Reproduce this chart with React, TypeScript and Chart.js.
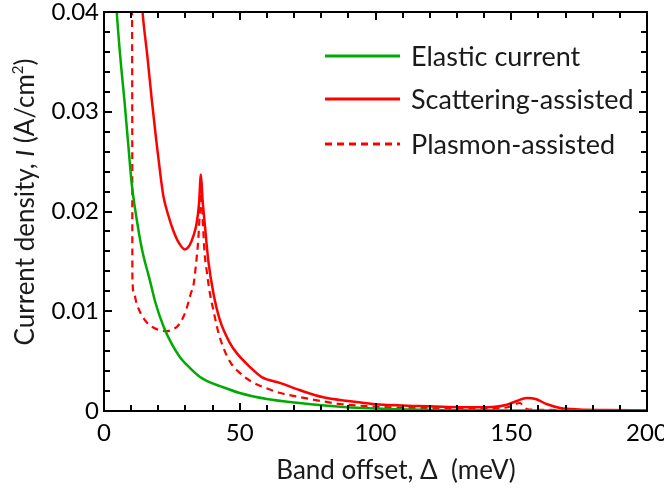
import React, { useEffect, useRef } from 'react';
import { Chart, registerables } from 'chart.js';

Chart.register(...registerables);

// ---- data ----
const elasticX = [3.5, 4.7, 6, 7.5, 9, 10.2, 12, 14, 16.9, 19, 21.9, 25, 28, 31.7, 35.4, 38, 42.7, 50, 60, 72, 87, 105, 130, 160, 200];
const elasticY = [0.046, 0.04, 0.0355, 0.0312, 0.0265, 0.0228, 0.0193, 0.0162, 0.0131, 0.0108, 0.0085, 0.0067, 0.0054, 0.0043, 0.0034, 0.003, 0.0025, 0.0018, 0.0012, 0.0008, 0.00043, 0.0002, 0.00008, 0.00004, 0.00002];

const scatterX = [12.5, 14.2, 16, 17.6, 19.3, 21, 21.9, 23.7, 25.5, 27.5, 29.8, 31.5, 33, 34.1, 35, 35.7, 36.3, 37.2, 38.4, 40.3, 42.7, 46.4, 48.9, 53.8, 58.1, 65, 72, 80.8, 90, 99, 115, 135, 143, 148, 152, 155.7, 159, 163, 168, 175, 185, 200];
const scatterY = [0.047, 0.04, 0.0355, 0.0312, 0.027, 0.0232, 0.0215, 0.0196, 0.0181, 0.0169, 0.0162, 0.0166, 0.0176, 0.0188, 0.0208, 0.0237, 0.0212, 0.0185, 0.0151, 0.0118, 0.0091, 0.0068, 0.0058, 0.0044, 0.0034, 0.0028, 0.0021, 0.00137, 0.001, 0.0007, 0.0005, 0.00037, 0.0004, 0.0006, 0.001, 0.0013, 0.0012, 0.0007, 0.0003, 0.00015, 0.0001, 0.00005];

const plasmonX = [10.2, 10.4, 10.45, 11, 12, 13.5, 15.7, 18, 20.5, 23.1, 25.5, 27.4, 29.5, 31, 32, 33, 34, 34.7, 35.3, 35.7, 36.3, 37, 37.8, 39, 40.3, 42, 43.9, 46.5, 50.1, 54, 58.7, 65, 72, 80, 87, 95, 105, 120, 140, 149, 153.2, 155, 157, 170, 200];
const plasmonY = [0.05, 0.03, 0.0135, 0.0118, 0.0108, 0.0098, 0.0089, 0.0084, 0.0081, 0.008, 0.0082, 0.0086, 0.0096, 0.0108, 0.0118, 0.0127, 0.015, 0.0171, 0.02, 0.0219, 0.0195, 0.016, 0.0141, 0.0118, 0.0101, 0.008, 0.0064, 0.0049, 0.0038, 0.003, 0.0024, 0.0018, 0.0014, 0.001, 0.0007, 0.00052, 0.00037, 0.00028, 0.0002, 0.0004, 0.0008, 0.0003, 0.00015, 0.0001, 0.00005];

const seriesLabels = ['Elastic current', 'Scattering-assisted', 'Plasmon-assisted'];

const xTicks = [0, 50, 100, 150, 200];
const xTickLabels = ['0', '50', '100', '150', '200'];
const yTicks = [0, 0.01, 0.02, 0.03, 0.04];
const yTickLabels = ['0', '0.01', '0.02', '0.03', '0.04'];
const xMinorStep = 10;
const yMinorStep = 0.002;

const xTitle = 'Band offset, \u0394  (meV)';
const yTitleParts = ['Current density, ', 'I', ' (A/cm', '2', ')'];

const GREEN = '#00aa00';
const RED = '#ff0000';
const FONT = 'Lato';

const pts = (xs: number[], ys: number[]) => xs.map((x, i) => ({ x, y: ys[i] }));

const decorPlugin = {
  id: 'decor',
  afterDraw(chart: any) {
    const { ctx, chartArea: ca, scales } = chart;
    const xs = scales.x;
    const ys = scales.y;
    ctx.save();
    ctx.strokeStyle = '#000';
    ctx.lineWidth = 2;
    ctx.beginPath();
    const xMin = xs.min, xMax = xs.max;
    for (let k = 0; xMin + k * xMinorStep <= xMax + 1e-9; k++) {
      const v = xMin + k * xMinorStep;
      const major = xTicks.some((t) => Math.abs(t - v) < 1e-9);
      const len = major ? 8 : 6;
      const px = Math.round(xs.getPixelForValue(v));
      ctx.moveTo(px, ca.bottom);
      ctx.lineTo(px, ca.bottom - len);
      ctx.moveTo(px, ca.top);
      ctx.lineTo(px, ca.top + len);
    }
    const yMin = ys.min, yMax = ys.max;
    for (let k = 0; yMin + k * yMinorStep <= yMax + 1e-9; k++) {
      const v = yMin + k * yMinorStep;
      const major = yTicks.some((t) => Math.abs(t - v) < 1e-9);
      const len = major ? 8 : 6;
      const py = Math.round(ys.getPixelForValue(v));
      ctx.moveTo(ca.left, py);
      ctx.lineTo(ca.left + len, py);
      ctx.moveTo(ca.right, py);
      ctx.lineTo(ca.right - len, py);
    }
    ctx.stroke();
    ctx.strokeRect(ca.left, ca.top, ca.right - ca.left, ca.bottom - ca.top);

    // legend
    const colors = [GREEN, RED, RED];
    const dashes = [[], [], [7, 5]];
    const rowsY = [56, 99, 144];
    ctx.font = `27px ${FONT}`;
    ctx.fillStyle = '#1a1a1a';
    ctx.textBaseline = 'middle';
    ctx.textAlign = 'left';
    seriesLabels.forEach((lab, i) => {
      ctx.beginPath();
      ctx.strokeStyle = colors[i];
      ctx.lineWidth = 3;
      ctx.setLineDash(dashes[i]);
      ctx.moveTo(325, rowsY[i]);
      ctx.lineTo(400, rowsY[i]);
      ctx.stroke();
      ctx.setLineDash([]);
      ctx.fillText(lab, 411, rowsY[i] + 1);
    });

    // x title
    ctx.fillStyle = '#1a1a1a';
    ctx.font = `26px ${FONT}`;
    ctx.textAlign = 'center';
    ctx.textBaseline = 'alphabetic';
    ctx.fillText(xTitle, 396, 479);

    // y title (mixed fonts, rotated)
    const fonts = [`26px ${FONT}`, `italic 26px ${FONT}`, `26px ${FONT}`, `15px ${FONT}`, `26px ${FONT}`];
    const dys = [0, 0, 0, -11, 0];
    let total = 0;
    const widths = yTitleParts.map((t, i) => {
      ctx.font = fonts[i];
      const w = ctx.measureText(t).width;
      total += w;
      return w;
    });
    ctx.translate(34, 202);
    ctx.rotate(-Math.PI / 2);
    ctx.textAlign = 'left';
    let cx = -total / 2;
    yTitleParts.forEach((t, i) => {
      ctx.font = fonts[i];
      ctx.fillText(t, cx, dys[i]);
      cx += widths[i];
    });
    ctx.restore();
  },
};

export default function App() {
  const ref = useRef<HTMLCanvasElement | null>(null);
  useEffect(() => {
    if (!ref.current) return;
    const common = { pointRadius: 0, fill: false, cubicInterpolationMode: 'monotone' };
    const chart = new Chart(ref.current, {
      type: 'line',
      data: {
        datasets: [
          { ...common, label: seriesLabels[0], data: pts(elasticX, elasticY), borderColor: GREEN, borderWidth: 2.5 },
          { ...common, label: seriesLabels[1], data: pts(scatterX, scatterY), borderColor: RED, borderWidth: 2.5 },
          { ...common, label: seriesLabels[2], data: pts(plasmonX, plasmonY), borderColor: RED, borderWidth: 2.2, borderDash: [7, 5] },
        ],
      },
      options: {
        animation: false,
        responsive: false,
        layout: { padding: { left: 0, right: 17, top: 12, bottom: 0 } },
        plugins: { legend: { display: false }, tooltip: { enabled: false } },
        scales: {
          x: {
            type: 'linear',
            min: 0,
            max: 200,
            grid: { display: false, drawTicks: false },
            border: { display: false },
            afterBuildTicks: (s: any) => { s.ticks = xTicks.map((v) => ({ value: v })); },
            afterFit: (s: any) => { s.height = 80; s.paddingLeft = 0; s.paddingRight = 0; },
            ticks: {
              color: '#000',
              padding: 8,
              maxRotation: 0,
              autoSkip: false,
              font: { family: FONT, size: 24 },
              callback: (_v: any, i: number) => xTickLabels[i],
            },
          },
          y: {
            type: 'linear',
            min: 0,
            max: 0.04,
            grid: { display: false, drawTicks: false },
            border: { display: false },
            afterBuildTicks: (s: any) => { s.ticks = yTicks.map((v) => ({ value: v })); },
            afterFit: (s: any) => { s.width = 104; s.paddingTop = 0; s.paddingBottom = 0; },
            ticks: {
              color: '#000',
              padding: 5,
              autoSkip: false,
              font: { family: FONT, size: 24 },
              callback: (_v: any, i: number) => yTickLabels[i],
            },
          },
        },
      },
      plugins: [decorPlugin],
    } as any);
    return () => chart.destroy();
  }, []);
  return (
    <div style={{ position: 'fixed', left: 0, top: 0, width: 664, height: 491, background: '#fff' }}>
      <canvas ref={ref} width={664} height={491} style={{ display: 'block' }} />
    </div>
  );
}
